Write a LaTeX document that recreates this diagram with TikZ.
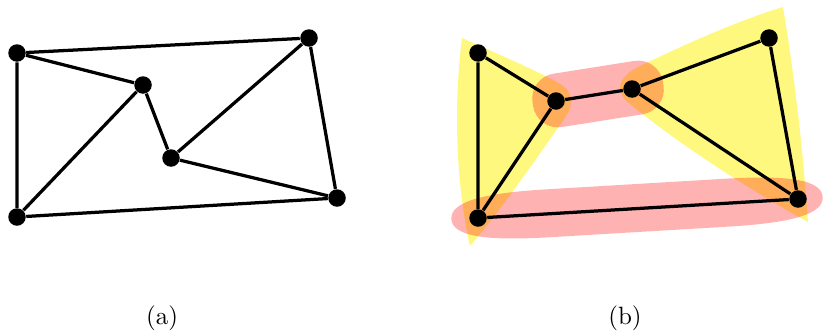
\documentclass[tikz,border=0pt]{standalone}
\usepackage{tikz}
\usetikzlibrary{positioning}
\tikzset{
  vtx/.style={circle, fill=black, inner sep=0pt, minimum size=7pt},
  edg/.style={line width=1.3pt, black},
  hyperY/.style={fill=yellow, fill opacity=0.5},
  hyperR/.style={fill=red, fill opacity=0.3},
  capt/.style={font=\normalsize, inner sep=1pt},
}
\begin{document}
\begin{tikzpicture}[x=0.4pt, y=-0.4pt]
  \useasboundingbox (0,0) rectangle (824,333);

  % (a) plain graph
  \node[vtx] (a1) at (17,53)  {};
  \node[vtx] (a2) at (143,85) {};
  \node[vtx] (a3) at (309,38) {};
  \node[vtx] (a4) at (171,158) {};
  \node[vtx] (a5) at (17,217) {};
  \node[vtx] (a6) at (337,198) {};

  \draw[edg] (a1) -- (a3) -- (a6) -- (a5) -- (a1);
  \draw[edg] (a1) -- (a2) -- (a5);
  \draw[edg] (a2) -- (a4) -- (a3);
  \draw[edg] (a4) -- (a6);

  % (b) hyperedges first
  \fill[hyperY] (462,38) .. controls (500,55) and (540,72) .. (560,84)
    .. controls (576,93) and (573,108) .. (562,122)
    .. controls (532,165) and (497,215) .. (470,246)
    .. controls (455,180) and (454,100) .. (462,38) -- cycle;
  \fill[hyperY] (783,7) .. controls (795,80) and (803,150) .. (808,222)
    .. controls (750,190) and (680,145) .. (630,104)
    .. controls (614,92) and (617,77) .. (640,66)
    .. controls (690,42) and (740,20) .. (783,7) -- cycle;
  \begin{scope}[shift={(598,94)}, rotate=9]
    \fill[hyperR, rounded corners=10pt] (-66,-27) rectangle (66,27);
  \end{scope}
  \begin{scope}[shift={(637,208)}, rotate=3.4]
    \fill[hyperR] (-186,0) .. controls (-186,-18) and (-150,-24) .. (-90,-24)
      -- (90,-24) .. controls (150,-24) and (186,-18) .. (186,0)
      .. controls (186,18) and (150,24) .. (90,24)
      -- (-90,24) .. controls (-150,24) and (-186,18) .. (-186,0) -- cycle;
  \end{scope}

  \node[vtx] (b1) at (478,53)  {};
  \node[vtx] (b2) at (556,101) {};
  \node[vtx] (b3) at (632,89)  {};
  \node[vtx] (b4) at (769,38)  {};
  \node[vtx] (b5) at (478,218) {};
  \node[vtx] (b6) at (798,199) {};

  \draw[edg] (b1) -- (b5) -- (b2) -- (b1);
  \draw[edg] (b2) -- (b3);
  \draw[edg] (b3) -- (b4) -- (b6) -- (b3);
  \draw[edg] (b5) -- (b6);

  % captions
  \node[capt] (capa) at (162,318) {(a)};
  \node[capt] (capb) at (625,318) {(b)};
\end{tikzpicture}
\end{document}
